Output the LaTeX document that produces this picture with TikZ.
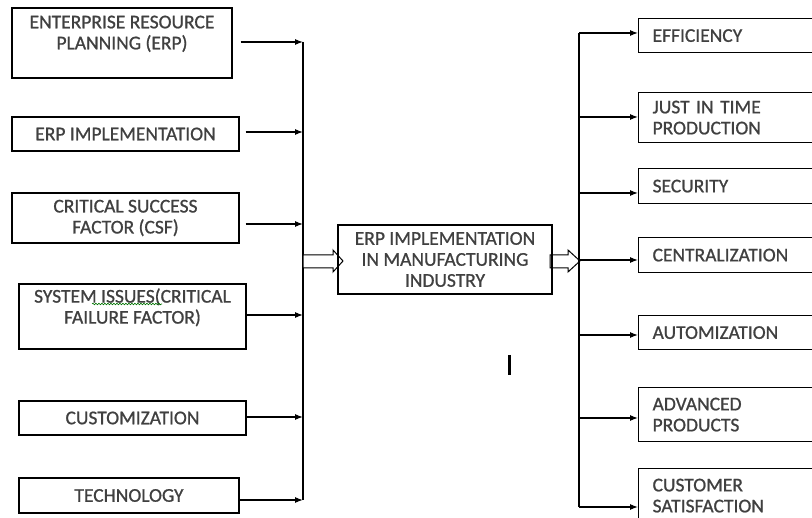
\documentclass[tikz,border=0pt]{standalone}
\usepackage{fontspec}
\setmainfont{Carlito}
\newfontfamily\boxfont{Carlito}[FakeBold=0.9]
\usetikzlibrary{arrows.meta,decorations.pathmorphing}
\definecolor{txt}{HTML}{404040}
\begin{document}
\begin{tikzpicture}[x=1pt,y=-1pt,
  box/.style={draw=black,line width=1.2pt,rectangle,inner sep=0pt,align=center,
    text=txt,font=\boxfont\fontsize{19.5}{21}\selectfont},
  rbox/.style={draw=black,line width=1.2pt,rectangle,anchor=north west,inner xsep=14pt,inner ysep=0pt,
    text width=162pt,align=left,text=txt,font=\boxfont\fontsize{19.5}{21}\selectfont},
  arr/.style={line width=1.1pt,-{Latex[length=8pt,width=6pt]}},
  bus/.style={line width=1.2pt},
  hollow/.style={draw=black,line width=1pt,fill=white,line join=miter}]
\useasboundingbox (0,0) rectangle (812,518);
\clip (0,0) rectangle (812,518);

% left boxes
\node[box,minimum width=220pt,minimum height=70pt] (b1) at (122,43) {ENTERPRISE RESOURCE\\PLANNING (ERP)\\\mbox{}};
\node[box,minimum width=227pt,minimum height=34pt] (b2) at (125.5,134) {ERP IMPLEMENTATION};
\node[box,minimum width=227pt,minimum height=50pt] (b3) at (125.5,218) {CRITICAL SUCCESS\\FACTOR (CSF)};
\node[box,minimum width=227pt,minimum height=65pt] (b4) at (132.5,316.5) {SYSTEM ISSUES(CRITICAL\\FAILURE FACTOR)\\\mbox{}};
\node[box,minimum width=227pt,minimum height=34pt] (b5) at (132.5,418) {CUSTOMIZATION};
\node[box,minimum width=220pt,minimum height=35pt] (b6) at (129,495.5) {TECHNOLOGY};

% spelling squiggle under ISSUES
\draw[green!45!black,line width=0.6pt,decorate,decoration={snake,amplitude=0.8pt,segment length=3pt}] (92,304) -- (162,304);

% left bus
\coordinate (LT) at (303,42);
\coordinate (LB) at (303,500);
\draw[bus] (LT) -- (LB);
\coordinate (L1) at (303,42);
\coordinate (L2) at (303,132);
\coordinate (L3) at (303,224);
\coordinate (L4) at (303,315);
\coordinate (L5) at (303,417);
\coordinate (L6) at (303,500);
\draw[arr,shorten <=8pt] (b1.east |- L1) -- (L1);
\draw[arr,shorten <=6pt] (b2.east |- L2) -- (L2);
\draw[arr,shorten <=6pt] (b3.east |- L3) -- (L3);
\draw[arr] (b4.east |- L4) -- (L4);
\draw[arr] (b5.east |- L5) -- (L5);
\draw[arr] (b6.east |- L6) -- (L6);

% hollow arrows
\draw[hollow] (303,255) -- (333,255) -- (333,250) -- (343,261) -- (333,272) -- (333,268) -- (303,268) -- cycle;
\draw[hollow] (550,255) -- (568,255) -- (568,250) -- (580,261) -- (568,272) -- (568,268) -- (550,268) -- cycle;

% center box
\node[box,minimum width=214pt,minimum height=69pt] (c) at (445,259.5) {ERP IMPLEMENTATION\\IN MANUFACTURING\\INDUSTRY};

% right bus
\coordinate (RT) at (579,33);
\coordinate (RB) at (579,507);
\draw[bus] (RT) -- (RB);

% right boxes
\node[rbox,minimum height=34pt] (r1) at (638,18) {EFFICIENCY};
\node[rbox,minimum height=50pt] (r2) at (638,92) {JUST IN TIME\\PRODUCTION};
\node[rbox,minimum height=35pt] (r3) at (638,168) {SECURITY};
\node[rbox,minimum height=35pt] (r4) at (638,237) {CENTRALIZATION};
\node[rbox,minimum height=34pt] (r5) at (638,315) {AUTOMIZATION};
\node[rbox,minimum height=54pt] (r6) at (638,387) {ADVANCED\\PRODUCTS};
\node[rbox,minimum height=54pt] (r7) at (638,468) {CUSTOMER\\SATISFACTION};

\coordinate (R1) at (579,33);
\coordinate (R2) at (579,117);
\coordinate (R3) at (579,193);
\coordinate (R4) at (579,260);
\coordinate (R5) at (579,335);
\coordinate (R6) at (579,418);
\coordinate (R7) at (579,507);
\draw[arr] (R1) -- (r1.west |- R1);
\draw[arr] (R2) -- (r2.west |- R2);
\draw[arr] (R3) -- (r3.west |- R3);
\draw[arr] (R4) -- (r4.west |- R4);
\draw[arr] (R5) -- (r5.west |- R5);
\draw[arr] (R6) -- (r6.west |- R6);
\draw[arr] (R7) -- (r7.west |- R7);

% stray cursor mark
\draw[line width=3pt] (509,355) -- (509,375);
\end{tikzpicture}
\end{document}
